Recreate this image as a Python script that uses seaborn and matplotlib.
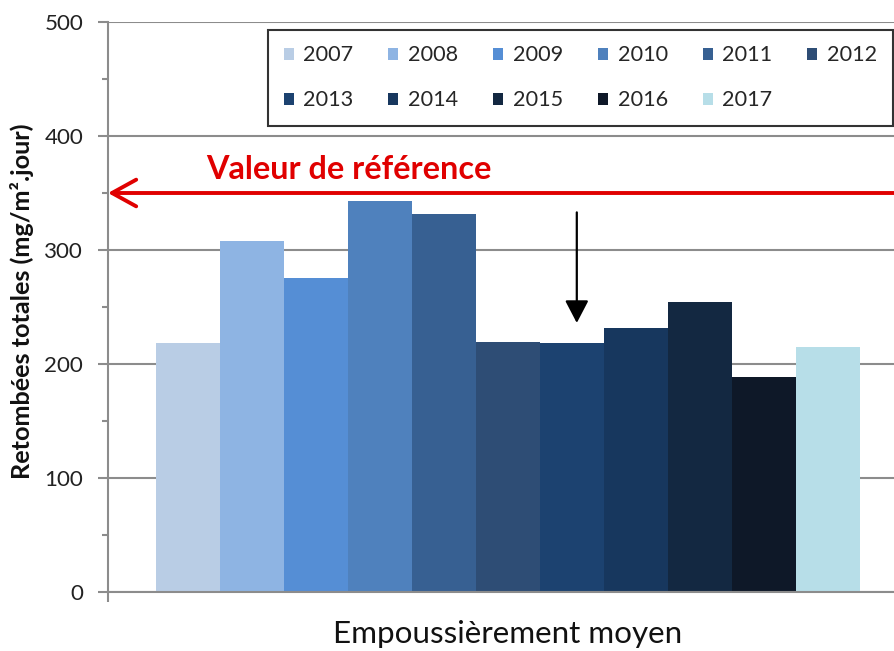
import pandas as pd
import seaborn as sns
import matplotlib.pyplot as plt
from matplotlib.ticker import MultipleLocator

# data
years = ['2007', '2008', '2009', '2010', '2011', '2012',
         '2013', '2014', '2015', '2016', '2017']
values = [218, 308, 275, 343, 332, 219, 218, 232, 254, 189, 215]
colors = ['#B9CDE5', '#8EB4E3', '#558ED5', '#4F81BD', '#376092', '#2E4D75',
          '#1C4270', '#17375E', '#132841', '#0E1828', '#B7DEE8']
group = 'Empoussièrement moyen'
reference_value = 350

df = pd.DataFrame({'group': group, 'year': years, 'value': values})

sns.set_theme(style='white')
plt.rcParams['font.family'] = ['Lato', 'DejaVu Sans']

fig = plt.figure(figsize=(8.95, 6.51), dpi=100)
# plot area runs slightly past the right edge, as in the original (cropped)
ax = fig.add_axes([108 / 895, (651 - 592) / 651, 800 / 895, 570 / 651])

sns.barplot(data=df, x='group', y='value', hue='year', palette=colors,
            width=0.88, dodge=True, saturation=1, ax=ax, legend=True,
            linewidth=0, edgecolor='none')

ax.set_ylim(0, 500)
ax.set_xlim(-0.5, 0.5)
ax.yaxis.set_major_locator(MultipleLocator(100))
ax.yaxis.set_minor_locator(MultipleLocator(50))
ax.grid(axis='y', color='#8C8C8C', linewidth=1.5)
ax.set_axisbelow(True)
for side in ['top', 'right']:
    ax.spines[side].set_visible(False)
for side in ['left', 'bottom']:
    ax.spines[side].set_color('#8C8C8C')
    ax.spines[side].set_linewidth(1.5)
ax.tick_params(axis='y', which='major', direction='out', length=7, width=1.5,
               color='#8C8C8C', labelsize=16, labelcolor='#222222', pad=11, left=True)
ax.tick_params(axis='y', which='minor', direction='out', length=4.3, width=1.5,
               color='#8C8C8C', left=True)
ax.set_xticks([-0.5])
ax.set_xticklabels([''])
ax.tick_params(axis='x', direction='out', length=7, width=1.5, color='#8C8C8C', bottom=True)
ax.set_xlabel('')
ax.set_ylabel('')

ylab = ax.text(-0.107, 0.51, 'Retombées totales (mg/m².jour)', transform=ax.transAxes,
               rotation=90, ha='center', va='center', fontsize=16, fontweight='bold',
               color='#111111')
xlab = ax.text(0.5, -0.089, group, transform=ax.transAxes, ha='center', va='baseline',
               fontsize=23, color='#111111')

# reference value arrow and label
ax.annotate('', xy=(-0.5, reference_value), xytext=(0.52, reference_value),
            arrowprops=dict(arrowstyle='->,head_length=1.45,head_width=0.8',
                            color='#E00000', lw=2.8, shrinkA=0, shrinkB=0),
            annotation_clip=False)
ref_txt = ax.text(-0.199, 362, 'Valeur de référence', ha='center', va='baseline',
                  fontsize=20, fontweight='bold', color='#E00000')

# arrow pointing at the 2013 bar
ax.annotate('', xy=(0.086, 236), xytext=(0.086, 333),
            arrowprops=dict(arrowstyle='-|>,head_length=1.15,head_width=0.6',
                            color='black', lw=1.6, shrinkA=0, shrinkB=0))

# legend, row-major order over 2 rows x 6 columns
handles, labels = ax.get_legend_handles_labels()
order = [0, 6, 1, 7, 2, 8, 3, 9, 4, 10, 5]
leg = ax.legend([handles[i] for i in order], [labels[i] for i in order],
                ncol=6, loc='upper left', mode='expand', borderaxespad=0,
                bbox_to_anchor=(0.2, 0.823, 0.781, 0.163),
                frameon=True, fancybox=False, edgecolor='black',
                fontsize=15.5, handlelength=0.47, handleheight=0.47,
                handletextpad=0.45, labelspacing=1.15, borderpad=0.72)
leg.get_frame().set_linewidth(1.5)

# scale the text sizes to the widths measured on the original
renderer = fig.canvas.get_renderer()


def fit(txt, px, vertical=False):
    box = txt.get_window_extent(renderer)
    size = box.height if vertical else box.width
    txt.set_fontsize(txt.get_fontsize() * px / size)


fit(ylab, 358, vertical=True)
fit(xlab, 350)
fit(ref_txt, 285)
fig.canvas.draw()
lab500 = [t for t in ax.get_yticklabels() if t.get_text() == '500'][0]
tick_size = 16 * 39 / lab500.get_window_extent(renderer).width
ax.tick_params(axis='y', labelsize=tick_size)
leg_size = 15.5 * 50 / leg.get_texts()[0].get_window_extent(renderer).width
for t in leg.get_texts():
    t.set_fontsize(leg_size)

plt.savefig('out.png', dpi=100)
